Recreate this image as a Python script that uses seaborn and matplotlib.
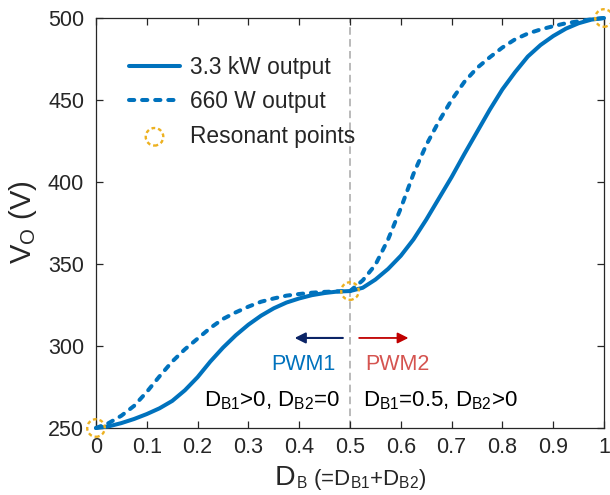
import numpy as np
import pandas as pd
import matplotlib
matplotlib.use("Agg")
import matplotlib.pyplot as plt
import seaborn as sns

# ---------------- data ----------------
d_b = [0.0, 0.025, 0.05, 0.075, 0.1, 0.125, 0.15, 0.175, 0.2, 0.225,
       0.25, 0.275, 0.3, 0.325, 0.35, 0.375, 0.4, 0.425, 0.45, 0.475,
       0.5, 0.525, 0.55, 0.575, 0.6, 0.625, 0.65, 0.675, 0.7, 0.725,
       0.75, 0.775, 0.8, 0.825, 0.85, 0.875, 0.9, 0.925, 0.95, 0.975, 1.0]

vo_3k3 = [250.0, 251.0, 253.0, 255.5, 258.5, 262.0, 266.5, 273.0, 281.0, 290.5,
          299.0, 306.5, 313.0, 318.5, 323.0, 326.5, 329.0, 331.0, 332.3, 333.2,
          333.5, 335.5, 340.5, 347.0, 355.0, 365.0, 377.0, 390.0, 403.0, 417.0,
          430.5, 444.0, 456.5, 467.0, 476.5, 483.5, 489.0, 493.5, 496.8, 499.0, 500.0]

vo_660 = [250.0, 253.0, 257.5, 263.5, 272.0, 281.5, 290.5, 298.0, 304.5, 311.0,
          316.5, 320.5, 324.0, 327.0, 329.0, 330.7, 331.7, 332.5, 333.0, 333.3,
          333.5, 340.0, 349.5, 365.0, 384.0, 405.0, 422.5, 437.0, 450.0, 461.0,
          469.5, 476.0, 482.0, 487.0, 490.5, 493.0, 495.0, 496.8, 498.0, 499.2, 500.0]

res_x = [0.0, 0.5, 1.0]
res_y = [250.0, 333.5, 500.0]

x_ticks = [0, 0.1, 0.2, 0.3, 0.4, 0.5, 0.6, 0.7, 0.8, 0.9, 1.0]
x_tick_labels = ["0", "0.1", "0.2", "0.3", "0.4", "0.5", "0.6", "0.7", "0.8", "0.9", "1"]
y_ticks = [250, 300, 350, 400, 450, 500]
y_tick_labels = ["250", "300", "350", "400", "450", "500"]
legend_labels = ["3.3 kW output", "660 W output", "Resonant points"]

# ---------------- style ----------------
sns.set_style("ticks")
plt.rcParams["font.family"] = ["Liberation Sans", "DejaVu Sans"]
plt.rcParams["mathtext.fontset"] = "custom"
plt.rcParams["mathtext.rm"] = "Liberation Sans"
plt.rcParams["mathtext.it"] = "Liberation Sans:italic"
plt.rcParams["mathtext.bf"] = "Liberation Sans:bold"

BLUE = "#0072BD"
YELLOW = "#EDB120"
AX_COL = "#262626"
W, H = 610, 495

fig = plt.figure(figsize=(W / 100, H / 100), dpi=100)
ax = fig.add_axes([96 / W, 1 - 428 / H, 508 / W, 410 / H])

df = pd.DataFrame({"D_B": d_b, "P3k3": vo_3k3, "P660": vo_660})

ax.axvline(0.5, color="#b4b4b4", lw=1.3, zorder=0, dashes=(4.2, 2.4))

sns.lineplot(data=df, x="D_B", y="P3k3", ax=ax, color=BLUE, lw=2.9,
             label=legend_labels[0], clip_on=False, zorder=3)
sns.lineplot(data=df, x="D_B", y="P660", ax=ax, color=BLUE, lw=2.9,
             label=legend_labels[1], clip_on=False, zorder=3)
l_solid, l_dash = ax.lines[-2], ax.lines[-1]
l_dash.set_dashes((1.3, 1.95))
l_dash.set_dash_capstyle("round")

sc = ax.scatter(res_x, res_y, s=160, facecolors="none", edgecolors=YELLOW,
                linewidths=1.7, linestyle=(0, (1.6, 1.25)), clip_on=False,
                zorder=5, label=legend_labels[2])

ax.set_xlim(0, 1)
ax.set_ylim(250, 500)
ax.set_xticks(x_ticks)
ax.set_xticklabels(x_tick_labels)
ax.set_yticks(y_ticks)
ax.set_yticklabels(y_tick_labels)
ax.set_xlabel("")
ax.set_ylabel("")

ax.tick_params(axis="both", direction="in", length=5, width=0.9,
               colors=AX_COL, labelsize=15.5, top=True, right=True)
ax.tick_params(axis="x", pad=6.5)
ax.tick_params(axis="y", pad=8.6)
for s in ax.spines.values():
    s.set_visible(True)
    s.set_color(AX_COL)
    s.set_linewidth(0.9)

leg = ax.legend(handles=[l_solid, l_dash, sc], labels=legend_labels,
                loc="upper left", bbox_to_anchor=(129 / W, 1 - 56 / H),
                bbox_transform=fig.transFigure, frameon=False,
                fontsize=16.4, handlelength=2.24, handletextpad=0.45,
                labelspacing=0.5, borderpad=0, borderaxespad=0)

# ---------------- annotations ----------------
ax.annotate("", xy=(0.391, 304.9), xytext=(0.486, 304.9),
            arrowprops=dict(arrowstyle="-|>", color="#0B2466", lw=1.5,
                            mutation_scale=16, shrinkA=0, shrinkB=0))
ax.annotate("", xy=(0.615, 304.9), xytext=(0.518, 304.9),
            arrowprops=dict(arrowstyle="-|>", color="#C00000", lw=1.3,
                            mutation_scale=16, shrinkA=0, shrinkB=0))
ax.text(0.409, 285.4, "PWM1", color=BLUE, fontsize=15.5, ha="center", va="baseline")
ax.text(0.594, 285.4, "PWM2", color="#D55450", fontsize=15.5, ha="center", va="baseline")
ax.text(0.347, 263.0, r"D$_\mathregular{B1}$>0, D$_\mathregular{B2}$=0",
        color="black", fontsize=16, ha="center", va="baseline")
ax.text(0.678, 263.0, r"D$_\mathregular{B1}$=0.5, D$_\mathregular{B2}$>0",
        color="black", fontsize=16, ha="center", va="baseline")

# ---------------- axis labels ----------------
fig.text(275 / W, 1 - 485 / H, "D", fontsize=20.5, color=AX_COL,
         ha="left", va="baseline")
fig.text(296 / W, 1 - 485 / H,
         r"${}_\mathregular{B}$ (=D$_\mathregular{B1}$+D$_\mathregular{B2}$)",
         fontsize=16, color=AX_COL, ha="left", va="baseline")
fig.text(23 / W, 1 - 222 / H, r"V$_\mathregular{O}$ (V)", fontsize=21,
         color=AX_COL, rotation=90, ha="center", va="center")

fig.savefig("out.png", dpi=100)
